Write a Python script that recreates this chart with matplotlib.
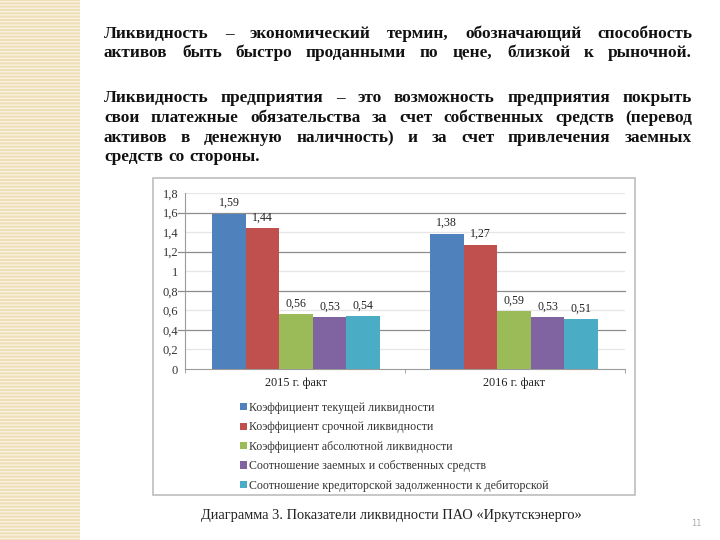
import numpy as np
import matplotlib.pyplot as plt
from matplotlib.patches import Rectangle

plt.rcParams['font.family'] = ['Liberation Serif', 'DejaVu Serif']

W, H = 720, 540

# Data
categories = ["2015 г. факт", "2016 г. факт"]
series_names = [
    "Коэффициент текущей ликвидности",
    "Коэффициент срочной ликвидности",
    "Коэффициент абсолютной ликвидности",
    "Соотношение заемных и собственных средств",
    "Соотношение кредиторской задолженности к дебиторской",
]
values_2015 = [1.59, 1.44, 0.56, 0.53, 0.54]
values_2016 = [1.38, 1.27, 0.59, 0.53, 0.51]
colors = ["#4F81BD", "#C0504D", "#9BBB59", "#8064A2", "#4BACC6"]
ytick_values = [0, 0.2, 0.4, 0.6, 0.8, 1.0, 1.2, 1.4, 1.6, 1.8]
ytick_labels = ["0", "0,2", "0,4", "0,6", "0,8", "1", "1,2", "1,4", "1,6", "1,8"]

paragraph1 = [
    "Ликвидность – экономический термин, обозначающий способность",
    "активов быть быстро проданными по цене, близкой к рыночной.",
]
paragraph2 = [
    "Ликвидность предприятия – это возможность предприятия покрыть",
    "свои платежные обязательства за счет собственных средств (перевод",
    "активов в денежную наличность) и за счет привлечения заемных",
    "средств со стороны.",
]
caption = "Диаграмма 3. Показатели ликвидности ПАО «Иркутскэнерго»"


def fx(px):
    return px / W


def fy(py):
    return 1 - py / H


fig = plt.figure(figsize=(7.2, 5.4), dpi=100)
fig.patch.set_facecolor("white")

# Decorative strip on the left
fig.patches.append(Rectangle((0, 0), fx(80), 1, transform=fig.transFigure,
                             facecolor="#eedfb8", edgecolor="#f8f1de",
                             hatch="-----", linewidth=0, zorder=-2))

# Justified text at the top
renderer = fig.canvas.get_renderer()


def text_line(line, y, justify=True, x0=104, x1=692):
    words = line.split()
    base = round(y + 4.5)
    items = [fig.text(0, fy(base), w, fontsize=12.4, fontweight="bold",
                      va="baseline", ha="left", color="#111111") for w in words]
    widths = [t.get_window_extent(renderer).width for t in items]
    if justify and len(words) > 1:
        gap = (x1 - x0 - sum(widths)) / (len(words) - 1)
    else:
        gap = 5.0
    x = x0
    for t, w in zip(items, widths):
        t.set_x(fx(round(x)))
        x += w + gap


for i, line in enumerate(paragraph1):
    text_line(line, 33 + i * 19.5)
for i, line in enumerate(paragraph2):
    text_line(line, 98 + i * 19.5, justify=(i < len(paragraph2) - 1))

# Chart frame
fig.patches.append(Rectangle((fx(153), fy(495)), fx(635) - fx(153), fy(178) - fy(495),
                             transform=fig.transFigure, facecolor="none",
                             edgecolor="#bdbdbd", linewidth=1.2, zorder=-1))

# Chart
ax = fig.add_axes([fx(185), fy(369), fx(625) - fx(185), fy(193) - fy(369)])
ax.set_facecolor("none")
x = np.arange(len(categories))
bw = 0.154
for i in range(len(series_names)):
    vals = [values_2015[i], values_2016[i]]
    pos = x + (i - 2) * bw
    ax.bar(pos, vals, bw, color=colors[i], label=series_names[i], zorder=3)
    for p, v in zip(pos, vals):
        ax.text(p, v + 0.05, f"{v:.2f}".replace(".", ","), ha="center",
                va="bottom", fontsize=8.6, color="#222222")

ax.set_xlim(-0.51, 1.51)
ax.set_ylim(0, 1.8)
ax.set_yticks(ytick_values)
ax.set_yticklabels(ytick_labels, fontsize=9, color="#333333")
ax.tick_params(axis="y", length=0, pad=5)
ax.set_xticks(x)
ax.set_xticklabels(categories, fontsize=8.8, color="#222222")
ax.tick_params(axis="x", length=0, pad=6)
ax.set_xticks([-0.51, 0.5, 1.51], minor=True)
ax.tick_params(axis="x", which="minor", length=3, color="#999999")

for v in ytick_values[1:]:
    k = int(round(v * 10))
    if k % 4 == 0:
        ax.axhline(v, xmin=-0.015, xmax=1, color="#8c8c8c", lw=0.9,
                   clip_on=False, zorder=1)
    else:
        ax.axhline(v, color="#e6e6e6", lw=0.9, zorder=1)

for s in ["top", "right"]:
    ax.spines[s].set_visible(False)
ax.spines["left"].set_color("#9a9a9a")
ax.spines["bottom"].set_color("#9a9a9a")

# Legend
fig.legend(loc="upper left", bbox_to_anchor=(fx(234), fy(396)), frameon=False,
           fontsize=8.6, handlelength=0.55, handleheight=0.55, handletextpad=0.2,
           labelspacing=0.62, borderpad=0, labelcolor="#333333")

# Caption and page number
fig.text(fx(391), fy(515), caption, fontsize=10.4, ha="center", va="center",
         color="#222222")
fig.text(fx(696), fy(523), "11", fontsize=6, ha="center", va="center",
         color="#aaaaaa", family="DejaVu Sans")

fig.savefig("out.png", dpi=100)
